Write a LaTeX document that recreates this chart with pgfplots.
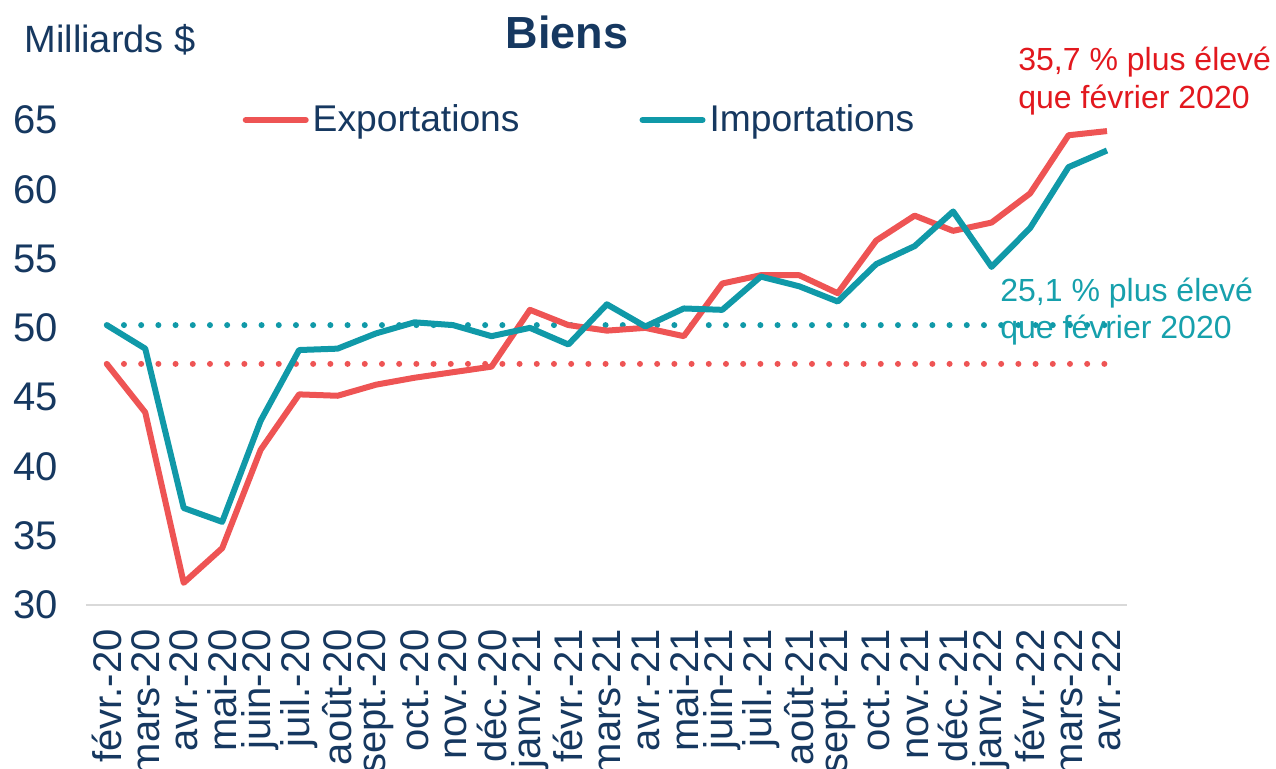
\documentclass[border=0pt]{standalone}
\usepackage{pgfplots}
\pgfplotsset{compat=1.18}
\usepackage{fontspec}
\setmainfont{Liberation Sans}
\definecolor{expred}{RGB}{238,84,84}
\definecolor{impteal}{RGB}{16,153,168}
\definecolor{navy}{RGB}{22,56,96}
\definecolor{annred}{RGB}{226,24,30}
\definecolor{annteal}{RGB}{22,160,172}
\definecolor{axgray}{RGB}{217,217,217}
\begin{document}
\begin{tikzpicture}
\useasboundingbox (0,0) rectangle (638pt,384pt);
\begin{axis}[
  at={(43pt,81.5pt)}, anchor=south west,
  scale only axis, width=520.5pt, height=242.5pt,
  xmin=-0.54, xmax=26.52, ymin=30, ymax=65,
  clip=false,
  axis x line*=bottom, axis y line*=left,
  x axis line style={draw=axgray, line width=1pt, -},
  y axis line style={draw=none},
  major tick length=0pt,
  /pgf/number format/assume math mode=true,
  xtick={0,...,26},
  xticklabels={févr.-20, mars-20, avr.-20, mai-20, juin-20, juil.-20, août-20, sept.-20, oct.-20, nov.-20, déc.-20, janv.-21, févr.-21, mars-21, avr.-21, mai-21, juin-21, juil.-21, août-21, sept.-21, oct.-21, nov.-21, déc.-21, janv.-22, févr.-22, mars-22, avr.-22},
  xticklabel style={rotate=90, anchor=east, font=\fontsize{20}{24}\selectfont, text=navy, inner sep=0pt},
  xticklabel shift=12pt,
  ytick={30,35,...,65},
  yticklabel style={font=\fontsize{20}{24}\selectfont, text=navy, inner sep=0pt},
  yticklabel shift=14pt,
  legend style={at={(0.475,1.0)}, anchor=center, draw=none, fill=none,
    font=\fontsize{18.6}{22}\selectfont, text=navy,
    /tikz/every even column/.append style={column sep=58pt}},
  legend columns=2,
  legend image code/.code={\draw[line width=3pt, line cap=round] (0pt,0pt) -- (30pt,0pt);},
]
\addplot[expred, line width=3pt, line cap=round, dash pattern=on 0pt off 8.6pt, forget plot] coordinates {(0,47.4) (26,47.4)};
\addplot[impteal, line width=3pt, line cap=round, dash pattern=on 0pt off 8.6pt, forget plot] coordinates {(0,50.2) (26,50.2)};
\addplot[expred, line width=3pt, line join=round] coordinates {
(0,47.4) (1,43.9) (2,31.6) (3,34.1) (4,41.2) (5,45.2) (6,45.1) (7,45.9) (8,46.4) (9,46.8) (10,47.2)
(11,51.3) (12,50.2) (13,49.8) (14,50.0) (15,49.4) (16,53.2) (17,53.8) (18,53.8) (19,52.5) (20,56.3)
(21,58.1) (22,57.0) (23,57.6) (24,59.7) (25,63.9) (26,64.2)};
\addlegendentry{Exportations}
\addplot[impteal, line width=3pt, line join=round] coordinates {
(0,50.2) (1,48.5) (2,37.0) (3,36.0) (4,43.3) (5,48.4) (6,48.5) (7,49.6) (8,50.4) (9,50.2) (10,49.4)
(11,50.0) (12,48.8) (13,51.7) (14,50.1) (15,51.4) (16,51.3) (17,53.7) (18,53.0) (19,51.9) (20,54.6)
(21,55.9) (22,58.4) (23,54.4) (24,57.2) (25,61.6) (26,62.8)};
\addlegendentry{Importations}
\end{axis}
\node[font=\fontsize{22.5}{26}\selectfont\bfseries, text=navy] at (283.5pt,368pt) {Biens};
\node[font=\fontsize{19}{23}\selectfont, text=navy] at (55pt,364pt) {Milliards \$};
\node[font=\fontsize{16}{19}\selectfont, text=annred, anchor=west, align=left, inner sep=0pt] at (509pt,343.5pt) {35,7 \% plus élevé\\que février 2020};
\node[font=\fontsize{16}{18.5}\selectfont, text=annteal, anchor=west, align=left, inner sep=0pt] at (500pt,228.25pt) {25,1 \% plus élevé\\que février 2020};
\end{tikzpicture}
\end{document}
